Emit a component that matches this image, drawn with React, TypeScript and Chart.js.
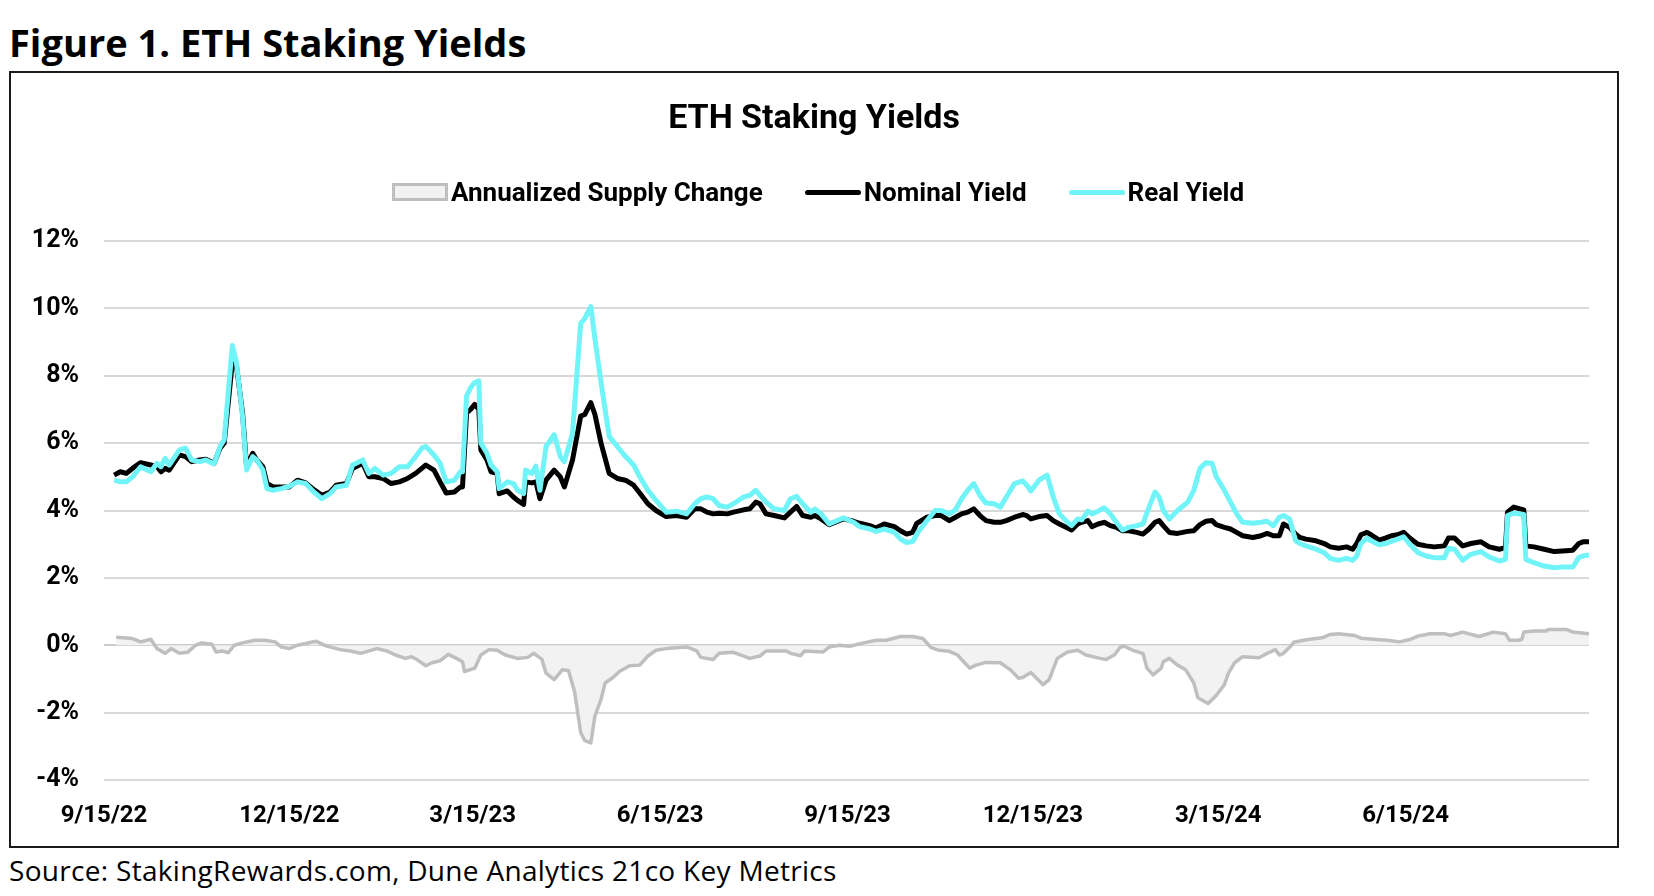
import { Chart, registerables, type ChartConfiguration } from "chart.js";
import { useEffect, useRef } from "react";

Chart.register(...registerables);

// days since 9/15/22
const tickDays = [0, 91, 181, 273, 365, 456, 547, 639];
const tickLabels = ["9/15/22", "12/15/22", "3/15/23", "6/15/23", "9/15/23", "12/15/23", "3/15/24", "6/15/24"];

const yieldDays = [
  5, 8, 11, 14, 18, 23, 26, 28, 30, 32, 37, 40, 43, 47, 50, 54, 57, 59, 63, 65,
  68, 70, 73, 75, 78, 80, 83, 87, 91, 95, 99, 103, 107, 111, 114, 119, 122, 127, 130, 133,
  137, 141,
  145, 149, 153, 156, 158, 162, 165, 168, 172, 175, 176, 178, 180, 182, 184, 185, 188, 190, 193, 194,
  198, 201, 203, 206, 207, 210, 212, 214, 217, 221, 224, 226, 230, 234, 236, 239, 241, 244, 248, 252,
  256, 260, 263, 267, 271, 276, 281, 286, 290,
  293, 296, 299, 302, 306, 309, 314, 317, 320, 322, 325, 329, 334, 337, 340, 343, 347, 349, 352, 356,
  363, 368, 371, 376, 379, 383, 388, 391, 394, 397, 399, 404, 408, 411, 415, 418, 421, 424, 427, 430,
  433, 437,
  440, 443, 447, 451, 453, 455, 459, 463, 466, 469, 473, 475, 478, 480, 483, 485, 488, 491, 494, 497,
  500, 503, 507, 510, 513, 516, 518, 520, 523, 527, 532, 535, 538, 541, 544, 546, 550, 553, 556, 559,
  564, 568, 571, 574, 577, 579, 582, 585,
  587, 590, 595, 599, 602, 606, 610, 613, 615, 617, 620, 622, 626, 629, 632, 635, 638, 641, 645, 649,
  653, 658, 660, 663, 667, 671, 676, 680, 685, 688, 689, 692, 697, 698, 702, 707, 712, 716, 721, 724,
  726, 729,
];

const nominalYield = [
  5.05, 5.15, 5.1, 5.25, 5.42, 5.35, 5.3, 5.15, 5.25, 5.2, 5.65, 5.6, 5.45, 5.5, 5.52, 5.4, 5.85, 6.0, 8.4, 8.3,
  6.9, 5.3, 5.7, 5.5, 5.3, 4.8, 4.7, 4.7, 4.7, 4.9, 4.82, 4.62, 4.45, 4.55, 4.75, 4.8, 5.25, 5.4, 5.0, 5.0,
  4.95, 4.8,
  4.85, 4.95, 5.1, 5.25, 5.35, 5.2, 4.85, 4.52, 4.55, 4.7, 4.7, 6.9, 7.0, 7.15, 7.0, 5.8, 5.5, 5.15, 5.1, 4.5,
  4.58, 4.4, 4.3, 4.18, 4.85, 4.82, 4.85, 4.35, 4.9, 5.2, 5.0, 4.7, 5.5, 6.8, 6.85, 7.2, 6.85, 6.0, 5.1, 4.95,
  4.9, 4.75, 4.52, 4.2, 4.0, 3.82, 3.85, 3.8, 4.05,
  4.05, 3.95, 3.9, 3.92, 3.9, 3.95, 4.02, 4.05, 4.25, 4.2, 3.9, 3.85, 3.78, 3.95, 4.12, 3.85, 3.8, 3.85, 3.75, 3.58,
  3.75, 3.68, 3.62, 3.55, 3.48, 3.6, 3.52, 3.4, 3.3, 3.35, 3.62, 3.8, 3.85, 3.85, 3.7, 3.8, 3.9, 3.95, 4.05, 3.85,
  3.7, 3.65,
  3.65, 3.7, 3.8, 3.88, 3.85, 3.75, 3.82, 3.85, 3.7, 3.6, 3.48, 3.42, 3.6, 3.65, 3.7, 3.52, 3.6, 3.65, 3.55, 3.5,
  3.4, 3.4, 3.35, 3.3, 3.45, 3.65, 3.7, 3.55, 3.35, 3.32, 3.38, 3.4, 3.58, 3.68, 3.7, 3.58, 3.5, 3.45, 3.35, 3.25,
  3.2, 3.25, 3.32, 3.25, 3.25, 3.6, 3.5, 3.3,
  3.2, 3.15, 3.1, 3.02, 2.92, 2.88, 2.92, 2.85, 3.02, 3.28, 3.35, 3.28, 3.12, 3.18, 3.25, 3.28, 3.35, 3.18, 3.0, 2.95,
  2.92, 2.95, 3.18, 3.18, 2.95, 3.02, 3.07, 2.92, 2.85, 2.9, 3.95, 4.1, 4.02, 2.95, 2.92, 2.85, 2.78, 2.8, 2.82, 3.02,
  3.07, 3.07,
];

const realYield = [
  4.9, 4.85, 4.85, 5.0, 5.3, 5.15, 5.4, 5.3, 5.55, 5.35, 5.8, 5.85, 5.5, 5.45, 5.5, 5.38, 5.9, 6.1, 8.9, 8.4,
  6.8, 5.2, 5.6, 5.5, 5.2, 4.65, 4.6, 4.65, 4.72, 4.85, 4.8, 4.55, 4.35, 4.5, 4.7, 4.75, 5.35, 5.5, 5.1, 5.25,
  5.05, 5.1,
  5.3, 5.3, 5.6, 5.85, 5.9, 5.65, 5.4, 4.85, 4.9, 5.15, 5.15, 7.4, 7.65, 7.8, 7.85, 6.0, 5.7, 5.35, 5.15, 4.65,
  4.85, 4.8, 4.6, 4.5, 5.2, 5.1, 5.32, 4.6, 5.9, 6.25, 5.6, 5.45, 6.3, 9.55, 9.7, 10.05, 9.1, 7.8, 6.2, 5.9,
  5.6, 5.35, 5.0, 4.6, 4.3, 3.95, 3.98, 3.9, 4.2,
  4.35, 4.4, 4.35, 4.15, 4.1, 4.2, 4.4, 4.45, 4.6, 4.45, 4.25, 4.05, 4.0, 4.35, 4.42, 4.2, 3.95, 4.05, 3.9, 3.6,
  3.78, 3.65, 3.52, 3.45, 3.38, 3.45, 3.35, 3.15, 3.05, 3.08, 3.3, 3.7, 4.0, 4.0, 3.9, 4.02, 4.35, 4.6, 4.8, 4.45,
  4.22, 4.2,
  4.1, 4.4, 4.8, 4.88, 4.75, 4.58, 4.9, 5.05, 4.4, 3.9, 3.65, 3.55, 3.75, 3.72, 3.98, 3.9, 3.98, 4.08, 3.9, 3.65,
  3.42, 3.5, 3.55, 3.6, 4.1, 4.55, 4.4, 4.0, 3.75, 4.0, 4.25, 4.6, 5.25, 5.42, 5.4, 5.0, 4.6, 4.25, 3.9, 3.65,
  3.62, 3.65, 3.68, 3.55, 3.8, 3.85, 3.75, 3.1,
  3.02, 2.95, 2.85, 2.75, 2.58, 2.52, 2.58, 2.52, 2.65, 3.02, 3.18, 3.1, 2.98, 3.02, 3.08, 3.15, 3.22, 3.0, 2.75, 2.65,
  2.6, 2.6, 2.88, 2.85, 2.52, 2.7, 2.78, 2.62, 2.5, 2.55, 3.85, 3.92, 3.88, 2.55, 2.45, 2.35, 2.3, 2.32, 2.32, 2.6,
  2.65, 2.68,
];

const supplyDays = [
  6, 14, 18, 23, 26, 30, 33, 37, 41, 45, 48, 53, 55, 58, 61, 64, 68, 74, 79, 84,
  87, 91, 95, 99, 104, 109, 116, 121, 126, 131, 134, 139, 143, 148, 151, 154, 158, 161, 165, 169,
  173, 176, 177, 182, 185, 189, 193, 197, 203, 208, 211, 215, 217, 221, 225, 228, 231, 234, 236, 239,
  241, 244, 246, 250, 253, 258, 263, 267, 271, 276, 286, 291, 293, 299, 302, 309, 317, 322, 325, 335,
  337, 342, 344, 353, 356, 361, 366, 373, 379, 384, 391, 397, 402, 406, 410, 415, 419, 422, 425, 428,
  433, 440, 445, 449, 451, 455, 461, 464, 468, 473, 478, 482, 489, 492, 496, 499, 501, 505, 510, 512,
  515, 519, 520, 523, 527, 531, 535, 537, 542, 546, 550, 552, 555, 559, 567, 571, 575, 577, 579, 583,
  584, 591, 598, 602, 606, 614, 617, 625, 630, 636, 641, 645, 651, 658, 661, 667, 675, 682, 688, 690,
  694, 696, 697, 702, 708, 709, 718, 721, 729,
];

const supplyChange = [
  0.24, 0.2, 0.1, 0.18, -0.1, -0.24, -0.1, -0.24, -0.21, 0.0, 0.07, 0.03, -0.2, -0.17, -0.22, 0.0, 0.07, 0.15, 0.15, 0.1,
  -0.05, -0.1, 0.0, 0.05, 0.12, -0.02, -0.13, -0.17, -0.24, -0.15, -0.1, -0.17, -0.29, -0.39, -0.34, -0.44, -0.61, -0.52, -0.46, -0.27,
  -0.39, -0.49, -0.78, -0.68, -0.29, -0.13, -0.15, -0.29, -0.39, -0.36, -0.24, -0.42, -0.83, -1.02, -0.73, -0.75, -1.37, -2.59, -2.83, -2.9,
  -2.1, -1.61, -1.12, -0.95, -0.78, -0.61, -0.59, -0.32, -0.15, -0.1, -0.05, -0.17, -0.36, -0.42, -0.24, -0.21, -0.39, -0.32, -0.17, -0.17,
  -0.24, -0.31, -0.17, -0.2, -0.05, 0.0, -0.03, 0.07, 0.15, 0.15, 0.26, 0.26, 0.2, -0.07, -0.15, -0.18, -0.29, -0.49, -0.68, -0.59,
  -0.51, -0.52, -0.73, -0.98, -0.96, -0.81, -1.17, -1.02, -0.39, -0.2, -0.15, -0.29, -0.39, -0.42, -0.29, -0.05, -0.03, -0.15, -0.24, -0.68,
  -0.88, -0.68, -0.49, -0.39, -0.59, -0.73, -1.12, -1.56, -1.73, -1.49, -1.17, -0.83, -0.52, -0.34, -0.37, -0.24, -0.13, -0.29, -0.24, 0.0,
  0.09, 0.17, 0.22, 0.32, 0.34, 0.29, 0.21, 0.17, 0.15, 0.1, 0.17, 0.27, 0.34, 0.34, 0.29, 0.39, 0.26, 0.39, 0.34, 0.15,
  0.15, 0.17, 0.39, 0.42, 0.42, 0.47, 0.47, 0.39, 0.34,
];

const FONT_NARROW = 'Roboto, "Liberation Sans", sans-serif';
const FONT_WIDE = '"Open Sans", Lato, sans-serif';

const SUPPLY_LINE = "#bfbfbf";
const SUPPLY_FILL = "#f2f2f2";
const NOMINAL = "#000000";
const REAL = "#70f4f8";

function points(days: number[], values: number[]) {
  return days.map((x, i) => ({ x, y: values[i] }));
}

function getConfig(): ChartConfiguration<"line"> {
  return {
    type: "line",
    data: {
      datasets: [
        {
          label: "Real Yield",
          data: points(yieldDays, realYield),
          borderColor: REAL,
          borderWidth: 5,
          pointRadius: 0,
          borderJoinStyle: "round",
          order: 0,
        },
        {
          label: "Nominal Yield",
          data: points(yieldDays, nominalYield),
          borderColor: NOMINAL,
          borderWidth: 5,
          pointRadius: 0,
          borderJoinStyle: "round",
          order: 1,
        },
        {
          label: "Annualized Supply Change",
          data: points(supplyDays, supplyChange),
          borderColor: SUPPLY_LINE,
          backgroundColor: SUPPLY_FILL,
          borderWidth: 3.5,
          pointRadius: 0,
          fill: "origin",
          borderJoinStyle: "round",
          order: 2,
        },
      ],
    },
    options: {
      responsive: true,
      maintainAspectRatio: false,
      animation: false,
      layout: { padding: { top: 168, right: 28, left: 0, bottom: 0 } },
      plugins: {
        legend: { display: false },
        title: { display: false },
        tooltip: { enabled: false },
      },
      scales: {
        x: {
          type: "linear",
          min: 0,
          max: 729,
          border: { display: false },
          grid: { display: false, drawTicks: false },
          afterBuildTicks(scale) {
            scale.ticks = tickDays.map((value) => ({ value }));
          },
          afterFit(scale) {
            scale.height = 66;
          },
          ticks: {
            autoSkip: false,
            maxRotation: 0,
            padding: 22,
            color: "#000",
            font: { family: FONT_NARROW, size: 24, weight: "bold" },
            callback(value) {
              return tickLabels[tickDays.indexOf(Number(value))] ?? "";
            },
          },
        },
        y: {
          min: -4,
          max: 12,
          border: { display: false },
          grid: {
            drawTicks: false,
            lineWidth: 2,
            color: (ctx) => (ctx.tick && ctx.tick.value === 0 ? "#cbcbcb" : "#d9d9d9"),
          },
          afterFit(scale) {
            scale.width = 93;
          },
          ticks: {
            stepSize: 2,
            padding: 25,
            color: "#000",
            font: { family: FONT_NARROW, size: 25, weight: "bold" },
            callback(value) {
              return `${value}%`;
            },
          },
        },
      },
    },
  };
}

function LegendItem({ label, swatch }: { label: string; swatch: "area" | "nominal" | "real" }) {
  const swatchStyle: React.CSSProperties =
    swatch === "area"
      ? { width: 50, height: 12, background: SUPPLY_FILL, border: `3px solid ${SUPPLY_LINE}` }
      : { width: 56, height: 5, borderRadius: 3, background: swatch === "nominal" ? NOMINAL : REAL };
  return (
    <div style={{ display: "flex", alignItems: "center" }}>
      <div style={swatchStyle} />
      <span style={{ marginLeft: 3 }}>{label}</span>
    </div>
  );
}

export default function App() {
  const canvasRef = useRef<HTMLCanvasElement>(null);

  useEffect(() => {
    if (!canvasRef.current) {
      return;
    }
    const chart = new Chart(canvasRef.current, getConfig());
    return () => {
      chart.destroy();
    };
  }, []);

  return (
    <div style={{ position: "absolute", left: 0, top: 0, width: 1654, height: 896, background: "#fff" }}>
      <div
        style={{
          position: "absolute",
          left: 9,
          top: 23,
          font: `bold 38px ${FONT_WIDE}`,
          lineHeight: "38px",
          whiteSpace: "nowrap",
          color: "#000",
        }}
      >
        Figure 1. ETH Staking Yields
      </div>
      <div
        style={{
          position: "absolute",
          left: 9,
          top: 71,
          width: 1606,
          height: 773,
          border: "2px solid #1a1a1a",
        }}
      >
        <div style={{ position: "absolute", left: 0, top: 0, width: 1606, height: 773 }}>
          <canvas ref={canvasRef} />
        </div>
        <div
          style={{
            position: "absolute",
            left: 0,
            top: 26,
            width: 1606,
            textAlign: "center",
            font: `bold 34px ${FONT_NARROW}`,
            lineHeight: "34px",
            color: "#000",
          }}
        >
          ETH Staking Yields
        </div>
        <div
          style={{
            position: "absolute",
            left: 0,
            top: 106,
            width: 1606,
            paddingLeft: 8,
            boxSizing: "border-box",
            display: "flex",
            justifyContent: "center",
            gap: 42,
            font: `bold 26px ${FONT_NARROW}`,
            lineHeight: "26px",
            color: "#000",
          }}
        >
          <LegendItem label="Annualized Supply Change" swatch="area" />
          <LegendItem label="Nominal Yield" swatch="nominal" />
          <LegendItem label="Real Yield" swatch="real" />
        </div>
      </div>
      <div
        style={{
          position: "absolute",
          left: 9,
          top: 856,
          font: `28px ${FONT_WIDE}`,
          lineHeight: "28px",
          letterSpacing: 0.3,
          whiteSpace: "nowrap",
          color: "#000",
        }}
      >
        Source: StakingRewards.com, Dune Analytics 21co Key Metrics
      </div>
    </div>
  );
}
